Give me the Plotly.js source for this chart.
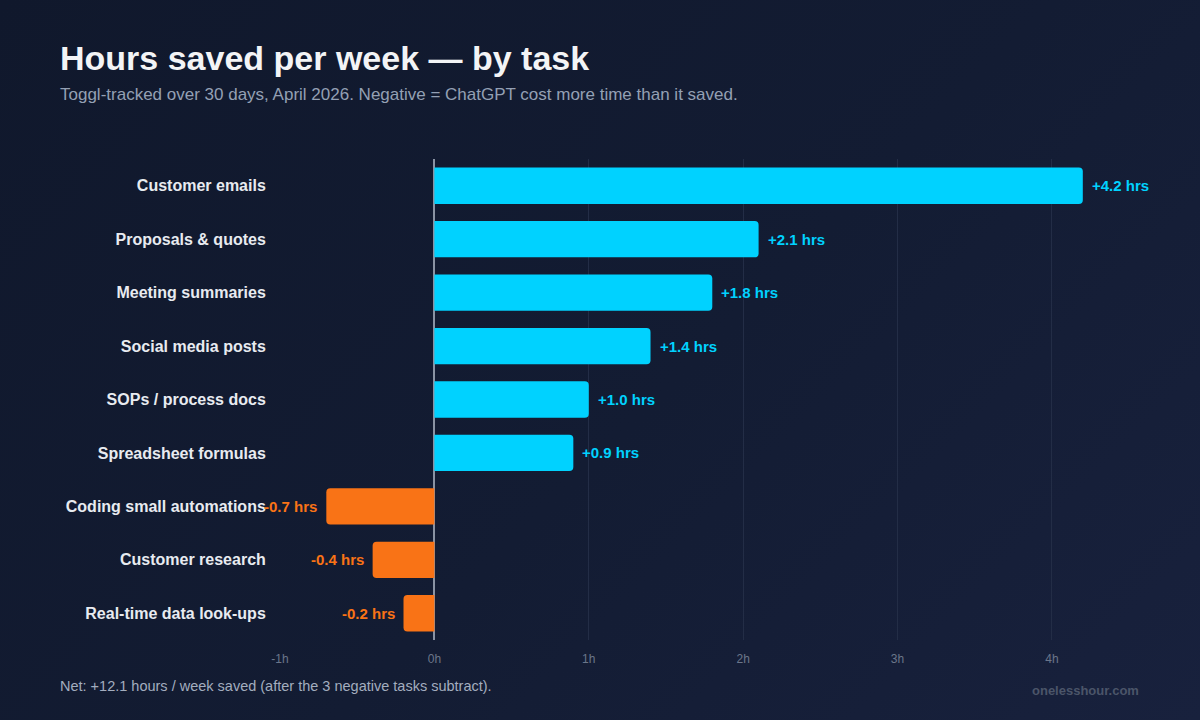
<!DOCTYPE html>
<html>
<head>
<meta charset="utf-8">
<script src="https://cdn.plot.ly/plotly-3.0.1.min.js"></script>
<style>
html,body{margin:0;padding:0;width:1200px;height:720px;overflow:hidden;}
body{background:linear-gradient(135deg,#10182c 0%,#131c33 55%,#18213d 100%);}
#chart{width:1200px;height:720px;}
</style>
</head>
<body>
<div id="chart"></div>
<script>
const tasks = ["Customer emails","Proposals & quotes","Meeting summaries","Social media posts","SOPs / process docs","Spreadsheet formulas","Coding small automations","Customer research","Real-time data look-ups"];
const hoursSaved = [4.2, 2.1, 1.8, 1.4, 1.0, 0.9, -0.7, -0.4, -0.2];
const tickVals = [-1, 0, 1, 2, 3, 4];
const tickText = ["-1h","0h","1h","2h","3h","4h"];

const FONT = "Liberation Sans, Arial, sans-serif";
const POS = "#00d2ff", NEG = "#f97316";
const colors = hoursSaved.map(v => v >= 0 ? POS : NEG);
const labels = hoursSaved.map(v => (v >= 0 ? "+" : "") + v.toFixed(1) + " hrs");

const trace = {
  type: "bar", orientation: "h",
  x: hoursSaved, y: tasks,
  marker: {color: colors, cornerradius: 4},
  width: 0.68,
  hoverinfo: "skip"
};

const annotations = hoursSaved.map((v, i) => ({
  x: v, y: tasks[i], xref: "x", yref: "y",
  text: "<b>" + labels[i] + "</b>",
  showarrow: false,
  xanchor: v >= 0 ? "left" : "right",
  xshift: v >= 0 ? 7 : -7,
  font: {family: FONT, size: 15, color: colors[i]}
}));

const layout = {
  width: 1200, height: 720,
  paper_bgcolor: "rgba(0,0,0,0)", plot_bgcolor: "rgba(0,0,0,0)",
  margin: {l: 280, r: 40, t: 159, b: 80},
  font: {family: FONT, color: "#e5e7eb"},
  showlegend: false,
  xaxis: {
    range: [-1, 4.7], tickvals: tickVals, ticktext: tickText,
    showgrid: true, gridcolor: "#232d46", gridwidth: 1,
    zeroline: true, zerolinecolor: "#8a93a3", zerolinewidth: 2,
    tickfont: {size: 12, color: "#6b768a"},
    ticks: "outside", ticklen: 8, tickcolor: "rgba(0,0,0,0)",
    showline: false, fixedrange: true
  },
  yaxis: {
    autorange: "reversed", type: "category",
    tickfont: {size: 16, color: "#e8ebf0", family: FONT, weight: "bold"},
    ticks: "outside", ticklen: 10, tickcolor: "rgba(0,0,0,0)",
    showgrid: false, zeroline: false, showline: false, fixedrange: true
  },
  annotations: annotations
};

const W = 880, H = 481;
function px(xp){ return (xp - 280) / W; }
function py(yp){ return (159 + H - yp) / H; }
layout.annotations.push(
  {xref:"paper", yref:"paper", x:px(58), y:py(58), xanchor:"left", yanchor:"middle", showarrow:false,
   text:"<b>Hours saved per week — by task</b>", font:{size:34, color:"#f3f4f6"}},
  {xref:"paper", yref:"paper", x:px(58), y:py(94), xanchor:"left", yanchor:"middle", showarrow:false,
   text:"Toggl-tracked over 30 days, April 2026. Negative = ChatGPT cost more time than it saved.", font:{size:17, color:"#94a0b4"}},
  {xref:"paper", yref:"paper", x:px(58), y:py(686), xanchor:"left", yanchor:"middle", showarrow:false,
   text:"Net: +12.1 hours / week saved (after the 3 negative tasks subtract).", font:{size:14.5, color:"#a3adbf"}},
  {xref:"paper", yref:"paper", x:px(1141), y:py(690), xanchor:"right", yanchor:"middle", showarrow:false,
   text:"<b>onelesshour.com</b>", font:{size:13, color:"#4b5569"}}
);

Plotly.newPlot("chart", [trace], layout, {displayModeBar: false, staticPlot: true});
</script>
</body>
</html>
